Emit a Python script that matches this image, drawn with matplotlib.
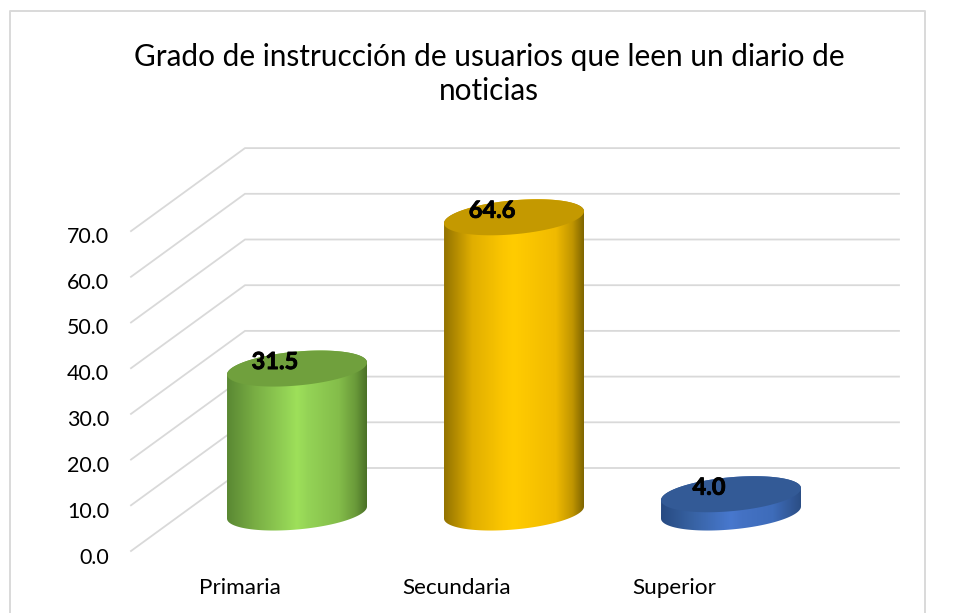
import numpy as np
import matplotlib
matplotlib.use("Agg")
import matplotlib.pyplot as plt
import matplotlib.patheffects as pe
from matplotlib.colors import LinearSegmentedColormap
from matplotlib.lines import Line2D
from matplotlib.patches import Polygon

plt.rcParams['font.family'] = ['Lato', 'DejaVu Sans']

title = "Grado de instrucción de usuarios que leen un diario de\nnoticias"
categories = ["Primaria", "Secundaria", "Superior"]
values = [31.5, 64.6, 4.0]
value_labels = ["31.5", "64.6", "4.0"]
y_ticks = [0, 10, 20, 30, 40, 50, 60, 70]

W, H = 955, 613
PX_CAT = 217.0       # pixels per category
X0 = 297.0           # pixel of first category centre
PX_VAL = 4.57        # pixels per value unit
Y0 = 512.5           # pixel of value 0 at bar centre

fig = plt.figure(figsize=(W / 100, H / 100), dpi=100, facecolor='white')
ax = fig.add_axes([0, 0, 1, 1])
ax.set_xlim(-X0 / PX_CAT, (W - X0) / PX_CAT)
ax.set_ylim((Y0 - H) / PX_VAL, Y0 / PX_VAL)
ax.axis('off')

def dx(px):
    return px / PX_CAT
def dy(px):
    return px / PX_VAL

GRID = '#d9d9d9'
frame_kw = dict(color=GRID, lw=1.4, transform=fig.transFigure, zorder=0)
fig.add_artist(Line2D([10 / W, 10 / W, 925 / W, 925 / W],
                      [0, 1 - 11 / H, 1 - 11 / H, 0], **frame_kw))

front_x = dx(131 - X0)
back_x = dx(245 - X0)
right_x = dx(899 - X0)
for v in y_ticks:
    ax.plot([front_x, back_x, right_x],
            [v - dy(38.5), v + dy(44.5), v + dy(44.5)],
            color=GRID, lw=1.3, zorder=1, solid_joinstyle='miter')
    # tick label sits slightly below the front end of its gridline
    ax.text(dx(109 - X0), v * 4.59 / PX_VAL - dy(45.5), f"{v:.1f}",
            ha='right', va='center', fontsize=15.4, color='black')

styles = [
    dict(top='#70A03D', stops=['#5A8833', '#79AE44', '#93D255', '#9EE05A', '#94D356', '#84BD4A', '#6A9A3A', '#4B7127']),
    dict(top='#C49900', stops=['#937300', '#E0AE00', '#FBC600', '#FFCC00', '#FCC700', '#F0BA00', '#C09500', '#7F6500']),
    dict(top='#335A96', stops=['#274A82', '#36609F', '#4372C2', '#4878CE', '#4472C4', '#3E6CBA', '#335A9A', '#2B4E85']),
]
positions = [0, 0.2, 0.42, 0.5, 0.58, 0.8, 0.92, 1]
RX, RY, TILT = 70.0, 17.0, 6.0 / 70.0

t = np.linspace(0, 2 * np.pi, 181)
for i, (val, st) in enumerate(zip(values, styles)):
    ex = RX * np.cos(t)
    ey = RY * np.sin(t) + TILT * ex
    lower = t >= np.pi
    xs = np.r_[i + dx(ex[lower]), i + dx(ex[~lower])]
    ys = np.r_[dy(ey[lower]), val + dy(ey[~lower])]
    cyl = Polygon(np.c_[xs, ys], closed=True, transform=ax.transData,
                  facecolor='none', edgecolor='none')
    ax.add_patch(cyl)
    cmap = LinearSegmentedColormap.from_list(f"c{i}", list(zip(positions, st['stops'])))
    grad = np.linspace(0, 1, 256).reshape(1, -1)
    im = ax.imshow(grad, cmap=cmap, aspect='auto', zorder=3, interpolation='bilinear',
                   extent=[i - dx(RX), i + dx(RX), -50, 120])
    im.set_clip_path(cyl)
    ax.add_patch(Polygon(np.c_[i + dx(ex), val + dy(ey)], closed=True,
                         facecolor=st['top'], edgecolor='none', zorder=4))
    ax.text(i - dx(22), val + dy(7), value_labels[i], ha='center', va='center',
            fontsize=17, fontweight='bold', color='black', zorder=5,
            path_effects=[pe.withStroke(linewidth=0.6, foreground='black')])
    ax.text(i - dx(57), dy(Y0 - 587.5), categories[i], ha='center', va='center',
            fontsize=16.2, color='black')

ax.set_xlim(-X0 / PX_CAT, (W - X0) / PX_CAT)
ax.set_ylim((Y0 - H) / PX_VAL, Y0 / PX_VAL)

fig.text(489 / W, 1 - 74 / H, title, ha='center', va='center', fontsize=21.4,
         color='black', linespacing=1.3)

fig.savefig("out.png", dpi=100, facecolor='white')
